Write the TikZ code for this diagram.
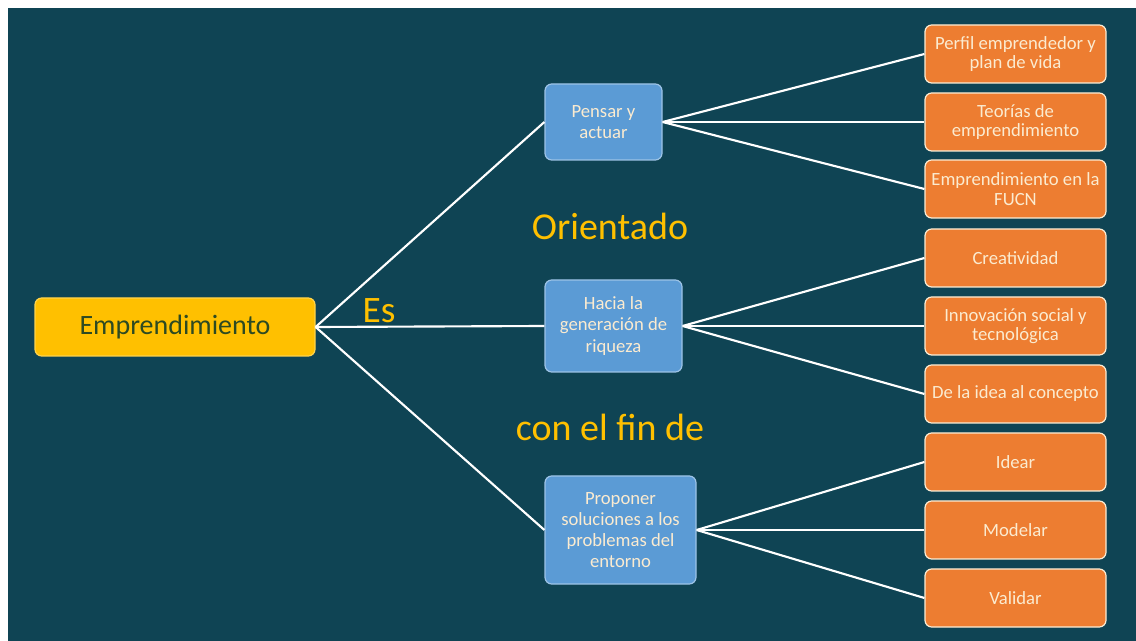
\documentclass[tikz,border=0pt]{standalone}
\usepackage{fontspec}
\setmainfont{Carlito}
\definecolor{bg}{HTML}{0F4454}
\definecolor{yel}{HTML}{FFC000}
\definecolor{blu}{HTML}{5B9BD5}
\definecolor{org}{HTML}{ED7D31}
\definecolor{cream}{HTML}{FBEBD0}
\definecolor{dgreen}{HTML}{2D4A22}
\definecolor{bborder}{HTML}{9DC3E6}
\begin{document}
\begin{tikzpicture}[x=0.75pt,y=-0.75pt,
  box/.style={rounded corners=5pt,line width=0.9pt,align=center,inner sep=0pt},
  orangebox/.style={box,fill=org,draw=cream!90!white,text=cream,minimum width=135.75pt,minimum height=43.5pt,font=\fontsize{14}{14.6}\selectfont},
  bluebox/.style={box,fill=blu,draw=bborder,text=cream,font=\fontsize{14}{15.9}\selectfont},
  conn/.style={draw=white,line width=1.6pt},
  lbl/.style={text=yel}]
\useasboundingbox (0,0) rectangle (1136,641);
\fill[white] (0,0) rectangle (1136,641);
\fill[bg] (8,8) rectangle (1136,641);

\node[box,fill=yel,draw=yel!70!white,text=dgreen,minimum width=210pt,minimum height=43.5pt,font=\fontsize{21}{24}\selectfont] (emp) at (175,327) {Emprendimiento};

\node[bluebox,minimum width=87.75pt,minimum height=57pt] (pen) at (603.5,122) {Pensar y\\actuar};
\node[bluebox,minimum width=102.75pt,minimum height=69pt] (hac) at (613.5,326) {Hacia la\\generación de\\riqueza};
\node[bluebox,minimum width=113.25pt,minimum height=81pt] (pro) at (620.5,530) {Proponer\\soluciones a los\\problemas del\\entorno};

\node[orangebox] (o1) at (1015.5,54) {Perfil emprendedor y\\plan de vida};
\node[orangebox] (o2) at (1015.5,122) {Teorías de\\emprendimiento};
\node[orangebox] (o3) at (1015.5,189) {Emprendimiento en la\\FUCN};
\node[orangebox] (o4) at (1015.5,258) {Creatividad};
\node[orangebox] (o5) at (1015.5,326) {Innovación social y\\tecnológica};
\node[orangebox] (o6) at (1015.5,394) {De la idea al concepto};
\node[orangebox] (o7) at (1015.5,462) {Idear};
\node[orangebox] (o8) at (1015.5,530) {Modelar};
\node[orangebox] (o9) at (1015.5,598) {Validar};

\draw[conn] (emp.east) -- (pen.west);
\draw[conn] (emp.east) -- (hac.west);
\draw[conn] (emp.east) -- (pro.west);
\foreach \t in {o1,o2,o3} \draw[conn] (pen.east) -- (\t.west);
\foreach \t in {o4,o5,o6} \draw[conn] (hac.east) -- (\t.west);
\foreach \t in {o7,o8,o9} \draw[conn] (pro.east) -- (\t.west);

\node[lbl,font=\fontsize{28}{32}\selectfont] (es) at (379,311) {Es};
\node[lbl,font=\fontsize{28.5}{33}\selectfont] (ori) at (610,226) {Orientado};
\node[lbl,font=\fontsize{28.5}{33}\selectfont] (fin) at (610,427) {con el fin de};
\end{tikzpicture}
\end{document}
